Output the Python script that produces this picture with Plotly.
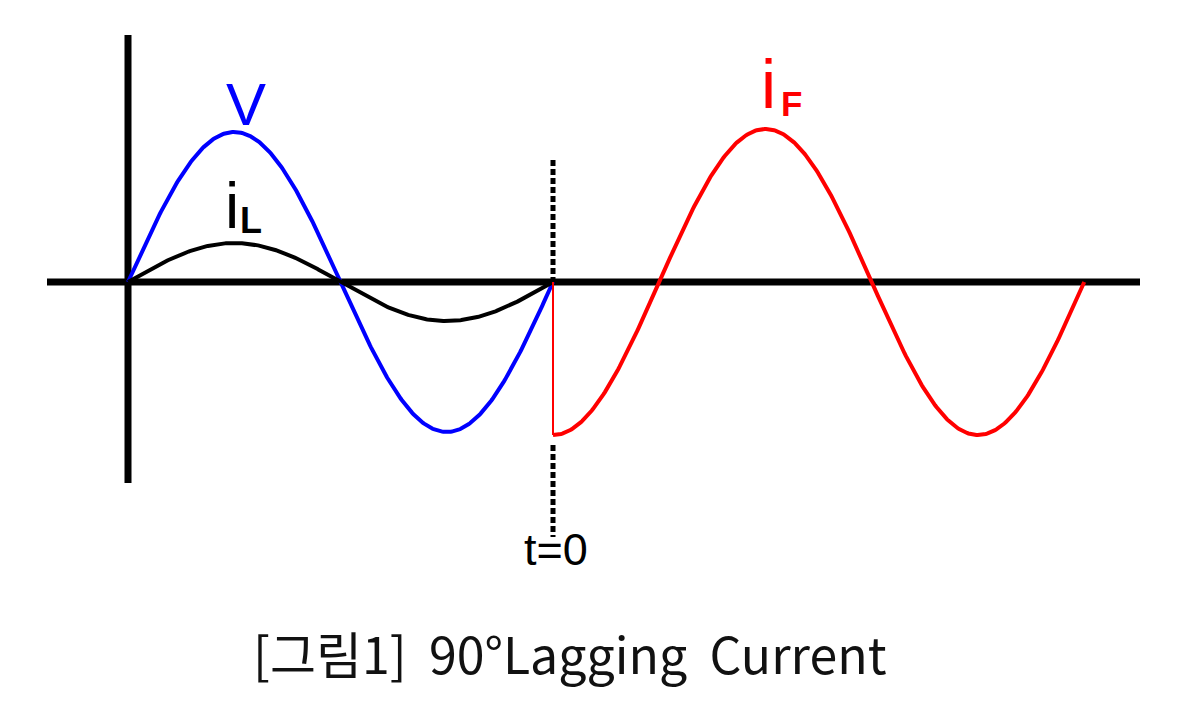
import numpy as np
import plotly.graph_objects as go

# ---- data ----
# phase in degrees; amplitudes relative to V
v_phase_span = [0, 360]          # V: one full cycle before t=0
v_amplitude = 1.0
il_phase_span = [0, 360]         # iL: same cycle, small amplitude
il_amplitude = 0.26
if_phase_span = [360, 810]       # iF: after t=0, starts at negative peak
if_amplitude = 1.02
t0_position = 360                # t = 0 marker
labels = ["V", "i", "L", "i", "F", "t=0"]
caption = "[그림1]\u00a0\u00a090°Lagging\u00a0\u00a0Current"

# ---- geometry helpers (scale: 425 px per 360 deg, 150 px per unit) ----
PX_PER_DEG = 425 / 360
PX_PER_UNIT = 150
OFFSET = 8                       # page body margin
ORIGIN_PAGE = (128, 282)
W, H = 1192, 698
ox, oy = ORIGIN_PAGE[0] - OFFSET, ORIGIN_PAGE[1] - OFFSET
x_range = [-ox / PX_PER_DEG, (W - ox) / PX_PER_DEG]
y_range = [-(H - oy) / PX_PER_UNIT, oy / PX_PER_UNIT]

def wave(span, amp, kind="sin", n=400):
    t = np.linspace(span[0], span[1], n)
    if kind == "sin":
        y = amp * np.sin(np.radians(t - span[0]))
    else:
        y = -amp * np.cos(np.radians(t - span[0]))
    return t, y

def px2x(px):
    return (px - ORIGIN_PAGE[0]) / PX_PER_DEG

def py2y(py):
    return (ORIGIN_PAGE[1] - py) / PX_PER_UNIT

fig = go.Figure()

# axes
fig.add_trace(go.Scatter(x=[px2x(47), px2x(1140)], y=[0, 0], mode="lines",
                         line=dict(color="black", width=7), hoverinfo="skip"))
fig.add_trace(go.Scatter(x=[0, 0], y=[py2y(35), py2y(483)], mode="lines",
                         line=dict(color="black", width=7), hoverinfo="skip"))

# dashed t=0 line (two segments)
fig.add_trace(go.Scatter(x=[t0_position, t0_position], y=[py2y(160), 0], mode="lines",
                         line=dict(color="black", width=5, dash="6px,3px"), hoverinfo="skip"))
fig.add_trace(go.Scatter(x=[t0_position, t0_position], y=[py2y(445), py2y(537)], mode="lines",
                         line=dict(color="black", width=5, dash="6px,3px"), hoverinfo="skip"))

# V
tv, yv = wave(v_phase_span, v_amplitude)
fig.add_trace(go.Scatter(x=tv, y=yv, mode="lines", line=dict(color="#0000ff", width=4)))
# iL
ti, yi = wave(il_phase_span, il_amplitude)
fig.add_trace(go.Scatter(x=ti, y=yi, mode="lines", line=dict(color="black", width=4)))
# iF jump
fig.add_trace(go.Scatter(x=[t0_position, t0_position], y=[0, -if_amplitude], mode="lines",
                         line=dict(color="#ff0000", width=2)))
# iF
tf, yf = wave(if_phase_span, if_amplitude, kind="cos")
fig.add_trace(go.Scatter(x=tf, y=yf, mode="lines", line=dict(color="#ff0000", width=4)))

ann = [
    dict(text=labels[0], x=px2x(246), y=py2y(104), font=dict(size=60, color="#0000ff", family="Liberation Sans")),
    dict(text=labels[1], x=px2x(232), y=py2y(206), font=dict(size=64, color="black", family="Liberation Sans")),
    dict(text="<b>" + labels[2] + "</b>", x=px2x(251), y=py2y(220), font=dict(size=36, color="black", family="Liberation Sans")),
    dict(text=labels[3], x=px2x(768), y=py2y(84), font=dict(size=68, color="#ff0000", family="Liberation Sans")),
    dict(text="<b>" + labels[4] + "</b>", x=px2x(791), y=py2y(103), font=dict(size=35, color="#ff0000", family="Liberation Sans")),
    dict(text=labels[5], x=px2x(556), y=py2y(549), font=dict(size=45, color="black", family="Liberation Sans Narrow, Liberation Sans")),
    dict(text=caption, x=px2x(570), y=py2y(652), font=dict(size=50, color="#111111", family="Noto Sans CJK KR")),
]
for a in ann:
    a.update(xref="x", yref="y", showarrow=False, xanchor="center", yanchor="middle")

fig.update_layout(
    width=W, height=H,
    margin=dict(l=0, r=0, t=0, b=0),
    paper_bgcolor="white", plot_bgcolor="white",
    showlegend=False,
    annotations=ann,
    xaxis=dict(range=x_range, visible=False, fixedrange=True),
    yaxis=dict(range=y_range, visible=False, fixedrange=True),
)

fig.write_html("out.html", config={"displayModeBar": False})
